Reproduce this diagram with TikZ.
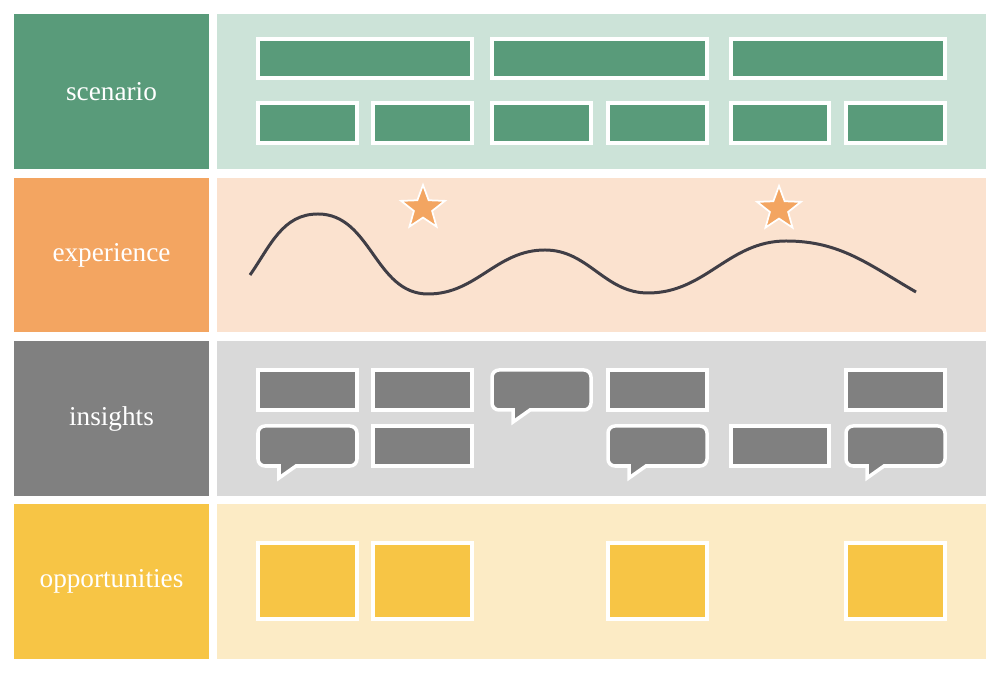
\documentclass[tikz,border=0pt]{standalone}
\usepackage{fontspec}
\setmainfont{Liberation Serif}
\usetikzlibrary{shapes.geometric}
\definecolor{scnDark}{RGB}{89,155,122}
\definecolor{scnLight}{RGB}{204,227,216}
\definecolor{expDark}{RGB}{243,165,97}
\definecolor{expLight}{RGB}{251,226,207}
\definecolor{insDark}{RGB}{128,128,128}
\definecolor{insLight}{RGB}{217,217,217}
\definecolor{oppDark}{RGB}{247,197,69}
\definecolor{oppLight}{RGB}{252,235,197}
\definecolor{waveInk}{RGB}{64,62,70}
\tikzset{
	laneLabel/.style={shape=rectangle,minimum width=3.9cm,minimum height=3.1cm,inner sep=0pt,
		text=white,font=\fontsize{15.5}{17}\selectfont},
	lanePanel/.style={shape=rectangle,minimum width=15.38cm,minimum height=3.1cm,inner sep=0pt},
	card/.style={draw=white,line width=2pt},
	bubble/.style={draw=white,line width=2pt,fill=insDark},
	starMark/.style={star,star points=5,star point ratio=2.4,minimum size=0.92cm,inner sep=0pt,
		fill=expDark,draw=white,line width=1pt}
}
\newcommand{\speechbox}[2]{%
	\draw[bubble] ({#1+21},{#2-40}) -- ({#1+21},{#2-52}) -- ({#1+38},{#2-40})
	[rounded corners=4pt] -- ({#1+99},{#2-40}) -- ({#1+99},#2) -- (#1,#2) -- (#1,{#2-40})
	[sharp corners] -- cycle;}
\begin{document}
\begin{tikzpicture}[x=0.02cm,y=0.02cm]
	\useasboundingbox[fill=white] (0,0) rectangle (1000,675);
	% lanes
	\node[laneLabel,fill=scnDark] (scenario) at (111.5,583.5) {scenario};
	\node[laneLabel,fill=expDark] (experience) at (111.5,420) {experience};
	\node[laneLabel,fill=insDark] (insights) at (111.5,256.5) {insights};
	\node[laneLabel,fill=oppDark] (opportunities) at (111.5,93.5) {opportunities};
	\node[lanePanel,fill=scnLight] (scenarioP) at (601.5,583.5) {};
	\node[lanePanel,fill=expLight] (experienceP) at (601.5,420) {};
	\node[lanePanel,fill=insLight] (insightsP) at (601.5,256.5) {};
	\node[lanePanel,fill=oppLight] (opportunitiesP) at (601.5,93.5) {};
	%
	% scenario
	\foreach \a/\b in {258/472,492/707,731/945}
		\draw[card,fill=scnDark] (\a,597) rectangle (\b,636);
	\foreach \a/\b in {258/357,373/472,492/591,608/707,731/829,846/945}
		\draw[card,fill=scnDark] (\a,532) rectangle (\b,572);
	%
	% experience
	\draw[waveInk,line width=1.7pt] (250,400) to[out=55,in=180] (318,461) to[out=0,in=180] (428,381)
		to[out=0,in=180] (545,425) to[out=0,in=180] (648,382) to[out=0,in=180] (786,434)
		to[out=0,in=150] (916,383);
	\node[starMark] (star1) at (423,467) {};
	\node[starMark] (star2) at (779,466) {};
	%
	% insights
	\foreach \a/\b in {258/357,373/472,608/707,846/945}
		\draw[card,fill=insDark] (\a,265) rectangle (\b,305);
	\foreach \a/\b in {373/472,731/829}
		\draw[card,fill=insDark] (\a,209) rectangle (\b,249);
	\speechbox{492}{305}
	\foreach \a in {258,608,846}
		\speechbox{\a}{249}
	%
	% opportunities
	\foreach \a/\b in {258/357,373/472,608/707,846/945}
		\draw[card,fill=oppDark] (\a,56) rectangle (\b,132);
\end{tikzpicture}
\end{document}
